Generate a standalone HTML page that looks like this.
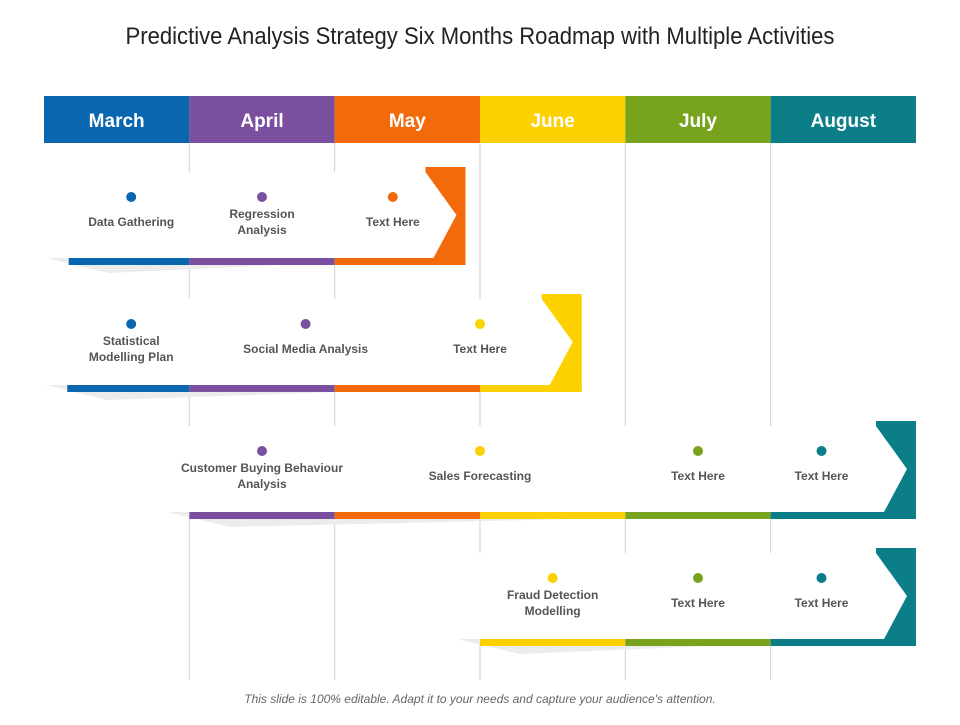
<!DOCTYPE html>
<html><head><meta charset="utf-8"><style>
body{margin:0;background:#fff;}
svg text{font-family:"Liberation Sans",sans-serif;}
</style></head><body>
<svg width="960" height="720" viewBox="0 0 960 720">
<text x="480" y="44" text-anchor="middle" font-size="24" fill="#222" transform="translate(480,0) scale(0.92,1) translate(-480,0)">Predictive Analysis Strategy Six Months Roadmap with Multiple Activities</text>
<g id="grid"></g>
<g id="header"></g>
<g id="rows"></g>
<text x="480" y="703" text-anchor="middle" font-size="12" font-style="italic" fill="#666">This slide is 100% editable. Adapt it to your needs and capture your audience's attention.</text>
</svg>
<script>
const months=["March","April","May","June","July","August"];
const colors=["#0b66b0","#7a4fa0","#f26a0a","#fdd000","#78a31d","#0b7e88"];
// rows: start month index (fractional allowed for bar start), end month index (exclusive), items
const rowStarts=[0.17,0.16,1,3];
const rowEnds=[2.9,3.7,6,6];
const rowItems=[
 [[0.6,"Data Gathering",0],[1.5,"Regression|Analysis",1],[2.4,"Text Here",2]],
 [[0.6,"Statistical|Modelling Plan",0],[1.8,"Social Media Analysis",1],[3.0,"Text Here",3]],
 [[1.5,"Customer Buying Behaviour|Analysis",1],[3.0,"Sales Forecasting",3],[4.5,"Text Here",4],[5.35,"Text Here",5]],
 [[3.5,"Fraud Detection|Modelling",3],[4.5,"Text Here",4],[5.35,"Text Here",5]]
];
const rowTops=[167,294,421,548];
const X0=44,W=145.33;
const x=i=>X0+i*W;
const NS="http://www.w3.org/2000/svg";
function mk(t,a,p){const e=document.createElementNS(NS,t);for(const k in a)e.setAttribute(k,a[k]);p.appendChild(e);return e;}
const grid=document.getElementById('grid'),hdr=document.getElementById('header'),rows=document.getElementById('rows');
for(let i=1;i<6;i++){const l=mk('line',{x1:x(i),x2:x(i),y1:143,y2:680,stroke:'#cfcfcf','stroke-width':1},grid);

}
months.forEach((m,i)=>{const r=mk('rect',{x:x(i),y:96,width:W,height:47,fill:colors[i]},hdr);


const t=mk('text',{x:x(i)+W/2,y:127,'text-anchor':'middle','font-size':19,'font-weight':'bold',fill:'#fff'},hdr);t.textContent=m;

});
rowItems.forEach((items,r)=>{
 const top=rowTops[r],s=rowStarts[r],e=rowEnds[r];
 const xs=x(s),xe=x(e);
 const g=mk('g',{},rows);
 
 
 const lastCol=Math.min(5,Math.ceil(e)-1);
 // white panel
 mk('rect',{x:xs-22,y:top+5,width:xe-xs-10,height:86,fill:'#fff'},g);
 mk('polygon',{points:`${xs-22},${top+91} ${xe-40},${top+91} ${xs+40},${top+106}`,fill:'#ececec'},g);
 // bar segments
 for(let c=Math.floor(s);c<Math.ceil(e);c++){
  const a=Math.max(x(c),xs+ (c===Math.floor(s)&&s%1?0:0)),b=Math.min(x(c+1),xe);
  const sx=(c===Math.floor(s))?xs:x(c);
  const seg=mk('rect',{x:sx,y:top+91,width:b-sx,height:7,fill:colors[c]},g);
  
  
 }
 // end block + chevron
 mk('rect',{x:xe-40,y:top,width:40,height:98,fill:colors[lastCol]},g);
 const ch=mk('polygon',{points:`${xe-40},${top+5} ${xe-9},${top+48} ${xe-32},${top+91} ${xe-60},${top+91} ${xe-60},${top+5}`,fill:'#fff'},g);
 
 
 items.forEach(([pos,label,ci])=>{
  const cx=x(pos);
  const d=mk('circle',{cx:cx,cy:top+30,r:5,fill:colors[ci]},g);
  
  
  const lines=label.split('|');
  const y0=lines.length>1?top+51:top+59;
  lines.forEach((ln,k)=>{const t=mk('text',{x:cx,y:y0+k*16,'text-anchor':'middle','font-size':12,'font-weight':'bold',fill:'#555'},g);t.textContent=ln;
  
  });
 });
});
</script>
</body></html>
